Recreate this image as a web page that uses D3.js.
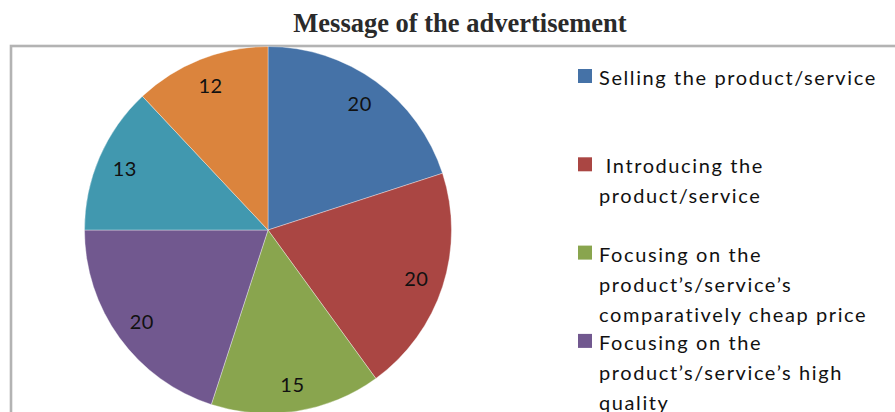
<!DOCTYPE html>
<html><head><meta charset="utf-8">
<script src="https://cdn.jsdelivr.net/npm/d3@7"></script>
<style>body{margin:0;background:#fff}svg{display:block}</style>
</head><body>
<svg id="c" width="895" height="412"></svg>
<script>
const title = "Message of the advertisement";
const legendLines = [
  ["Selling the product/service"],
  [" Introducing the", "product/service"],
  ["Focusing on the", "product\u2019s/service\u2019s", "comparatively cheap price"],
  ["Focusing on the", "product\u2019s/service\u2019s high", "quality"]
];
const values = [20, 20, 15, 20, 13, 12];
const colors = ["#4572A7", "#AA4643", "#89A54E", "#71588F", "#4198AF", "#DB843D"];

const svg = d3.select("#c");
const W = 895, H = 412;

svg.append("text").attr("x", 460).attr("y", 32).attr("text-anchor", "middle")
  .style("font-family", "'Liberation Serif','Times New Roman',serif")
  .style("font-weight", "bold").style("font-size", "26.5px").attr("fill", "#2a2a2a")
  .text(title);

// frame
svg.append("rect").attr("x", 11).attr("y", 46).attr("width", W + 20).attr("height", H)
  .attr("fill", "#fff").attr("stroke", "#b3b3b3").attr("stroke-width", 2.6);

const cx = 268, cy = 230, r = 183.5;
const g = svg.append("g").attr("transform", `translate(${cx},${cy})`);
const pie = d3.pie().sort(null).value(d => d)(values);
const arc = d3.arc().innerRadius(0).outerRadius(r);
const labelArc = d3.arc().innerRadius(156).outerRadius(156);

g.selectAll("path").data(pie).join("path")
  .attr("d", arc).attr("fill", (d, i) => colors[i])
  .attr("stroke", "rgba(255,255,255,0.45)").attr("stroke-width", 0.8);

g.selectAll("text").data(pie).join("text")
  .attr("transform", d => `translate(${labelArc.centroid(d)})`)
  .attr("text-anchor", "middle").attr("dy", "0.38em")
  .style("font-family", "Lato, 'Open Sans', sans-serif").style("font-size", "20px")
  .style("letter-spacing", "0.5px")
  .attr("fill", "#111").text(d => d.data);

// legend
const legY = d3.scaleLinear().domain([0, 1]).range([85, 173.3]);
const lg = svg.append("g");
legendLines.forEach((lines, i) => {
  const y0 = legY(i);
  lg.append("rect").attr("x", 578).attr("y", y0 - 16).attr("width", 14).attr("height", 14)
    .attr("fill", colors[i]);
  lines.forEach((t, j) => {
    lg.append("text").attr("x", 599).attr("y", y0 + j * 30)
      .style("font-family", "Lato, 'Open Sans', sans-serif").style("font-size", "20px")
      .style("letter-spacing", "1.6px")
      .style("white-space", "pre").attr("xml:space", "preserve")
      .attr("fill", "#111").text(t);
  });
});
</script>
</body></html>
